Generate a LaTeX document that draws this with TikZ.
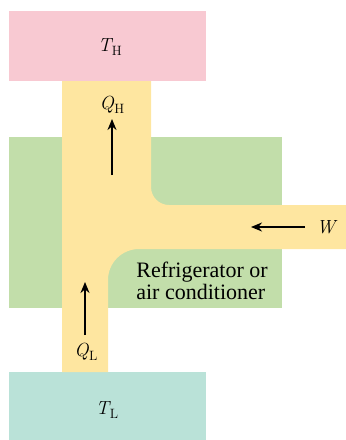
\documentclass[tikz,border=0pt]{standalone}
\usepackage{fontspec}
\setmainfont{Liberation Serif}
\newfontfamily\lmfont{Latin Modern Roman}
\usetikzlibrary{arrows.meta}
\definecolor{hotc}{RGB}{248,201,210}
\definecolor{coldc}{RGB}{186,226,216}
\definecolor{devc}{RGB}{194,222,170}
\definecolor{flowc}{RGB}{254,230,160}
\newcommand{\symlab}[2]{{\lmfont\fontsize{19}{19}\selectfont\itshape #1}\kern0.5pt\raisebox{-4pt}{\lmfont\fontsize{13.5}{13.5}\selectfont #2}}
\tikzset{
  flowarrow/.style={line width=2.6pt,-{Stealth[length=11pt,width=9pt]}},
  mathlabel/.style={inner sep=0pt},
}
\begin{document}
\begin{tikzpicture}[x=1pt,y=-1pt]
\useasboundingbox (0,0) rectangle (346,440);
\fill[hotc] (9,11) rectangle (206,81);
\fill[coldc] (9,372) rectangle (206,440);
\fill[devc] (9,137) rectangle (282,308);
\fill[flowc] (62,81) -- (151,81) -- (151,187) arc[start angle=180,end angle=90,radius=18] -- (346,205) -- (346,249) -- (139,249) arc[start angle=-90,end angle=-180,radius=31] -- (108,372) -- (62,372) -- cycle;
\node[mathlabel] (th) at (110,47) {\symlab{T}{H}};
\node[mathlabel] (tl) at (107,410) {\symlab{T}{L}};
\node[mathlabel] (qh) at (112,105) {\symlab{Q}{H}};
\node[mathlabel] (ql) at (86,352) {\symlab{Q}{L}};
\node[mathlabel] (w) at (326,227) {{\lmfont\fontsize{19}{19}\selectfont\itshape W}};
\coordinate (qhs) at (112,175);
\coordinate (qhe) at (112,119);
\coordinate (qls) at (85,335);
\coordinate (qle) at (85,282);
\coordinate (ws) at (305,227);
\coordinate (we) at (251,227);
\draw[flowarrow] (qhs) -- (qhe);
\draw[flowarrow] (qls) -- (qle);
\draw[flowarrow] (ws) -- (we);
\node[align=left,font=\fontsize{22}{22}\selectfont,inner sep=0pt] (dev) at (202,281) {Refrigerator or\\air conditioner};
\end{tikzpicture}
\end{document}
